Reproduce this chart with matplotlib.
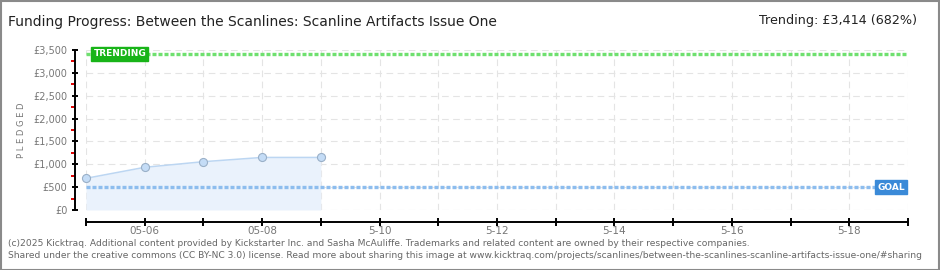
import matplotlib
matplotlib.use("Agg")
import matplotlib.pyplot as plt
import matplotlib.patches as mpatches
import pandas as pd

# ---- data ----
dates = ["2025-05-05", "2025-05-06", "2025-05-07", "2025-05-08", "2025-05-09"]
pledged = [693, 934, 1057, 1150, 1150]
goal = 500
trending = 3414
x_start, x_end = "2025-05-05", "2025-05-19"
tick_dates = pd.date_range(x_start, x_end, freq="D")
tick_labels = ["", "05-06", "", "05-08", "", "5-10", "", "5-12", "", "5-14", "", "5-16", "", "5-18", ""]
y_ticks = [0, 500, 1000, 1500, 2000, 2500, 3000, 3500]
y_tick_labels = ["£0", "£500", "£1,000", "£1,500", "£2,000", "£2,500", "£3,000", "£3,500"]
y_minor = [250, 750, 1250, 1750, 2250, 2750, 3250]
title = "Funding Progress: Between the Scanlines: Scanline Artifacts Issue One"
trend_text = "Trending: £3,414 (682%)"
footer1 = "(c)2025 Kicktraq. Additional content provided by Kickstarter Inc. and Sasha McAuliffe. Trademarks and related content are owned by their respective companies."
footer2 = "Shared under the creative commons (CC BY-NC 3.0) license. Read more about sharing this image at www.kicktraq.com/projects/scanlines/between-the-scanlines-scanline-artifacts-issue-one/#sharing"

plt.rcParams['font.family'] = ['DejaVu Sans']

W, H = 940, 270
fig = plt.figure(figsize=(W / 100, H / 100), dpi=100)
fig.patch.set_facecolor("white")

ax = fig.add_axes([86 / W, (H - 210) / H, (908 - 86) / W, 160 / H])
ax.set_facecolor("white")

xd = pd.to_datetime(dates)
ax.set_xlim(pd.Timestamp(x_start), pd.Timestamp(x_end))
ax.set_ylim(0, 3500)

# grid
for t in tick_dates:
    ax.axvline(t, color="#e4e4e4", lw=0.8, ls=(0, (6, 4)), zorder=0)
for yv in y_ticks:
    ax.axhline(yv, color="#e4e4e4", lw=0.8, ls=(0, (6, 4)), zorder=0)

# data
ax.fill_between(xd, pledged, 0, color="#eaf2fc", zorder=1, lw=0)
ax.plot(xd, pledged, color="#bcd6f2", lw=1.1, zorder=2)
ax.plot(xd, pledged, ls="none", marker="o", ms=5.8, mfc="#c4dcf6", mec="#9ab0c8", mew=0.8, zorder=4, clip_on=False)

# goal & trending lines
ax.axhline(goal, color="#8dbdee", lw=2.4, ls=(0, (1.2, 0.6)), zorder=3)
ax.axhline(trending, color="#6fe06f", lw=2.4, ls=(0, (1.2, 0.6)), zorder=3)

ax.text(0.009, trending, "TRENDING", transform=ax.get_yaxis_transform(), ha="left", va="center",
        color="white", fontsize=6.5, fontweight="bold",
        bbox=dict(boxstyle="square,pad=0.25", fc="#18b418", ec="#18b418"), zorder=5)
ax.text(0.996, goal, "GOAL", transform=ax.get_yaxis_transform(), ha="right", va="center",
        color="white", fontsize=6.5, fontweight="bold",
        bbox=dict(boxstyle="square,pad=0.25", fc="#3a8ad8", ec="#3a8ad8"), zorder=5)

# spines
for s in ["top", "right"]:
    ax.spines[s].set_visible(False)
ax.spines["left"].set_position(("outward", 7.9))
ax.spines["bottom"].set_position(("outward", 8.6))
ax.spines["left"].set_bounds(0, 3500)
ax.spines["left"].set_linewidth(1.4)
ax.spines["bottom"].set_linewidth(1.4)

ax.set_xticks(tick_dates)
ax.set_xticklabels(tick_labels)
ax.set_yticks(y_ticks)
ax.set_yticklabels(y_tick_labels)
ax.set_yticks(y_minor, minor=True)
ax.tick_params(axis="x", direction="inout", length=6, width=1.4, color="black",
               labelsize=7.5, labelcolor="#777777", pad=0)
ax.tick_params(axis="y", which="major", direction="inout", length=5, width=1.4, color="black",
               labelsize=7, labelcolor="#777777", pad=3)
ax.tick_params(axis="y", which="minor", direction="out", length=2.6, width=1.4, color="#e00000")
ax.tick_params(axis="x", which="minor", length=0)

fig.text(22 / W, 1 - 130 / H, "P L E D G E D", rotation=90, ha="center", va="center",
         fontsize=6, color="#777777")

fig.text(8 / W, 1 - 22 / H, title, ha="left", va="center", fontsize=10, color="#222222")
fig.text(917 / W, 1 - 21 / H, trend_text, ha="right", va="center", fontsize=9.2, color="#222222")
fig.text(8 / W, 1 - 243 / H, footer1, ha="left", va="center", fontsize=6.6, color="#666666")
fig.text(8 / W, 1 - 256 / H, footer2, ha="left", va="center", fontsize=6.6, color="#666666")

fig.patches.append(mpatches.Rectangle((0.5 / W, 0.5 / H), 1 - 1.5 / W, 1 - 1.5 / H, transform=fig.transFigure,
                                      fill=False, ec="#8a8a8a", lw=1.5))

fig.savefig("out.png", dpi=100, facecolor="white")
